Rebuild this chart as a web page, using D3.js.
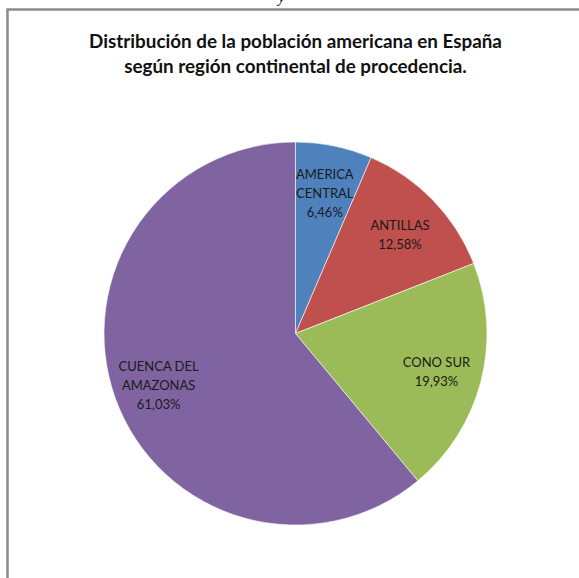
<!DOCTYPE html>
<html>
<head>
<meta charset="utf-8">
<script src="https://cdn.jsdelivr.net/npm/d3@7"></script>
<style>
  html, body { margin: 0; padding: 0; background: #fff; }
  svg { display: block; }
</style>
</head>
<body>
<svg id="chart" width="579" height="578"></svg>
<script>
const titleLines = ["Distribución de la población americana en España", "según región continental de procedencia."];
const categories = [["AMERICA", "CENTRAL"], ["ANTILLAS"], ["CONO SUR"], ["CUENCA DEL", "AMAZONAS"]];
const values = [6.46, 12.58, 19.93, 61.03];
const valueLabels = ["6,46%", "12,58%", "19,93%", "61,03%"];
const colors = ["#4F81BD", "#C0504D", "#9BBB59", "#8064A2"];

const svg = d3.select("#chart");
const font = "Lato, 'Open Sans', 'Liberation Sans', sans-serif";

// cut-off glyph from text above the chart frame
svg.append("text").attr("x", 278).attr("y", 2)
  .attr("font-family", "'Liberation Serif', serif").attr("font-style", "italic")
  .attr("font-size", 16).attr("fill", "#222").text("y");

// chart frame
svg.append("rect").attr("x", 7.5).attr("y", 9.5).attr("width", 700).attr("height", 700)
  .attr("fill", "#fff").attr("stroke", "#8a8a8a").attr("stroke-width", 2.5);

// title
const title = svg.append("text").attr("text-anchor", "middle")
  .attr("font-family", font).attr("font-weight", "bold").attr("font-size", 16).attr("fill", "#111");
const tspans = titleLines.map((t, i) =>
  title.append("tspan").attr("x", 295.5).attr("y", 48 + i * 25).text(t));
const w1 = tspans[0].node().getComputedTextLength();
title.attr("font-size", 16 * 413 / w1);

const cx = 295.5, cy = 333.5, R = 191.5;
const g = svg.append("g").attr("transform", `translate(${cx},${cy})`);
const pie = d3.pie().sort(null).value(d => d)(values);
const arc = d3.arc().innerRadius(0).outerRadius(R);
const labelArc = d3.arc().innerRadius(R * 0.76).outerRadius(R * 0.76);

g.selectAll("path.slice").data(pie).join("path")
  .attr("class", "slice")
  .attr("d", arc)
  .attr("fill", (d, i) => colors[i])
  .attr("stroke", "#ffffff").attr("stroke-width", 0.6);

const lh = 18.6;
g.selectAll("text.lbl").data(pie).join("text")
  .attr("class", "lbl")
  .attr("text-anchor", "middle")
  .attr("font-family", font).attr("font-size", 13).attr("fill", "#1a1a1a")
  .each(function(d, i) {
    const [x, y] = labelArc.centroid(d);
    const lines = categories[i].concat([valueLabels[i]]);
    const y0 = y - (lines.length - 1) * lh / 2 + 7;
    const t = d3.select(this);
    lines.forEach((s, k) => t.append("tspan").attr("x", x).attr("y", y0 + k * lh).text(s));
  });
</script>
</body>
</html>
